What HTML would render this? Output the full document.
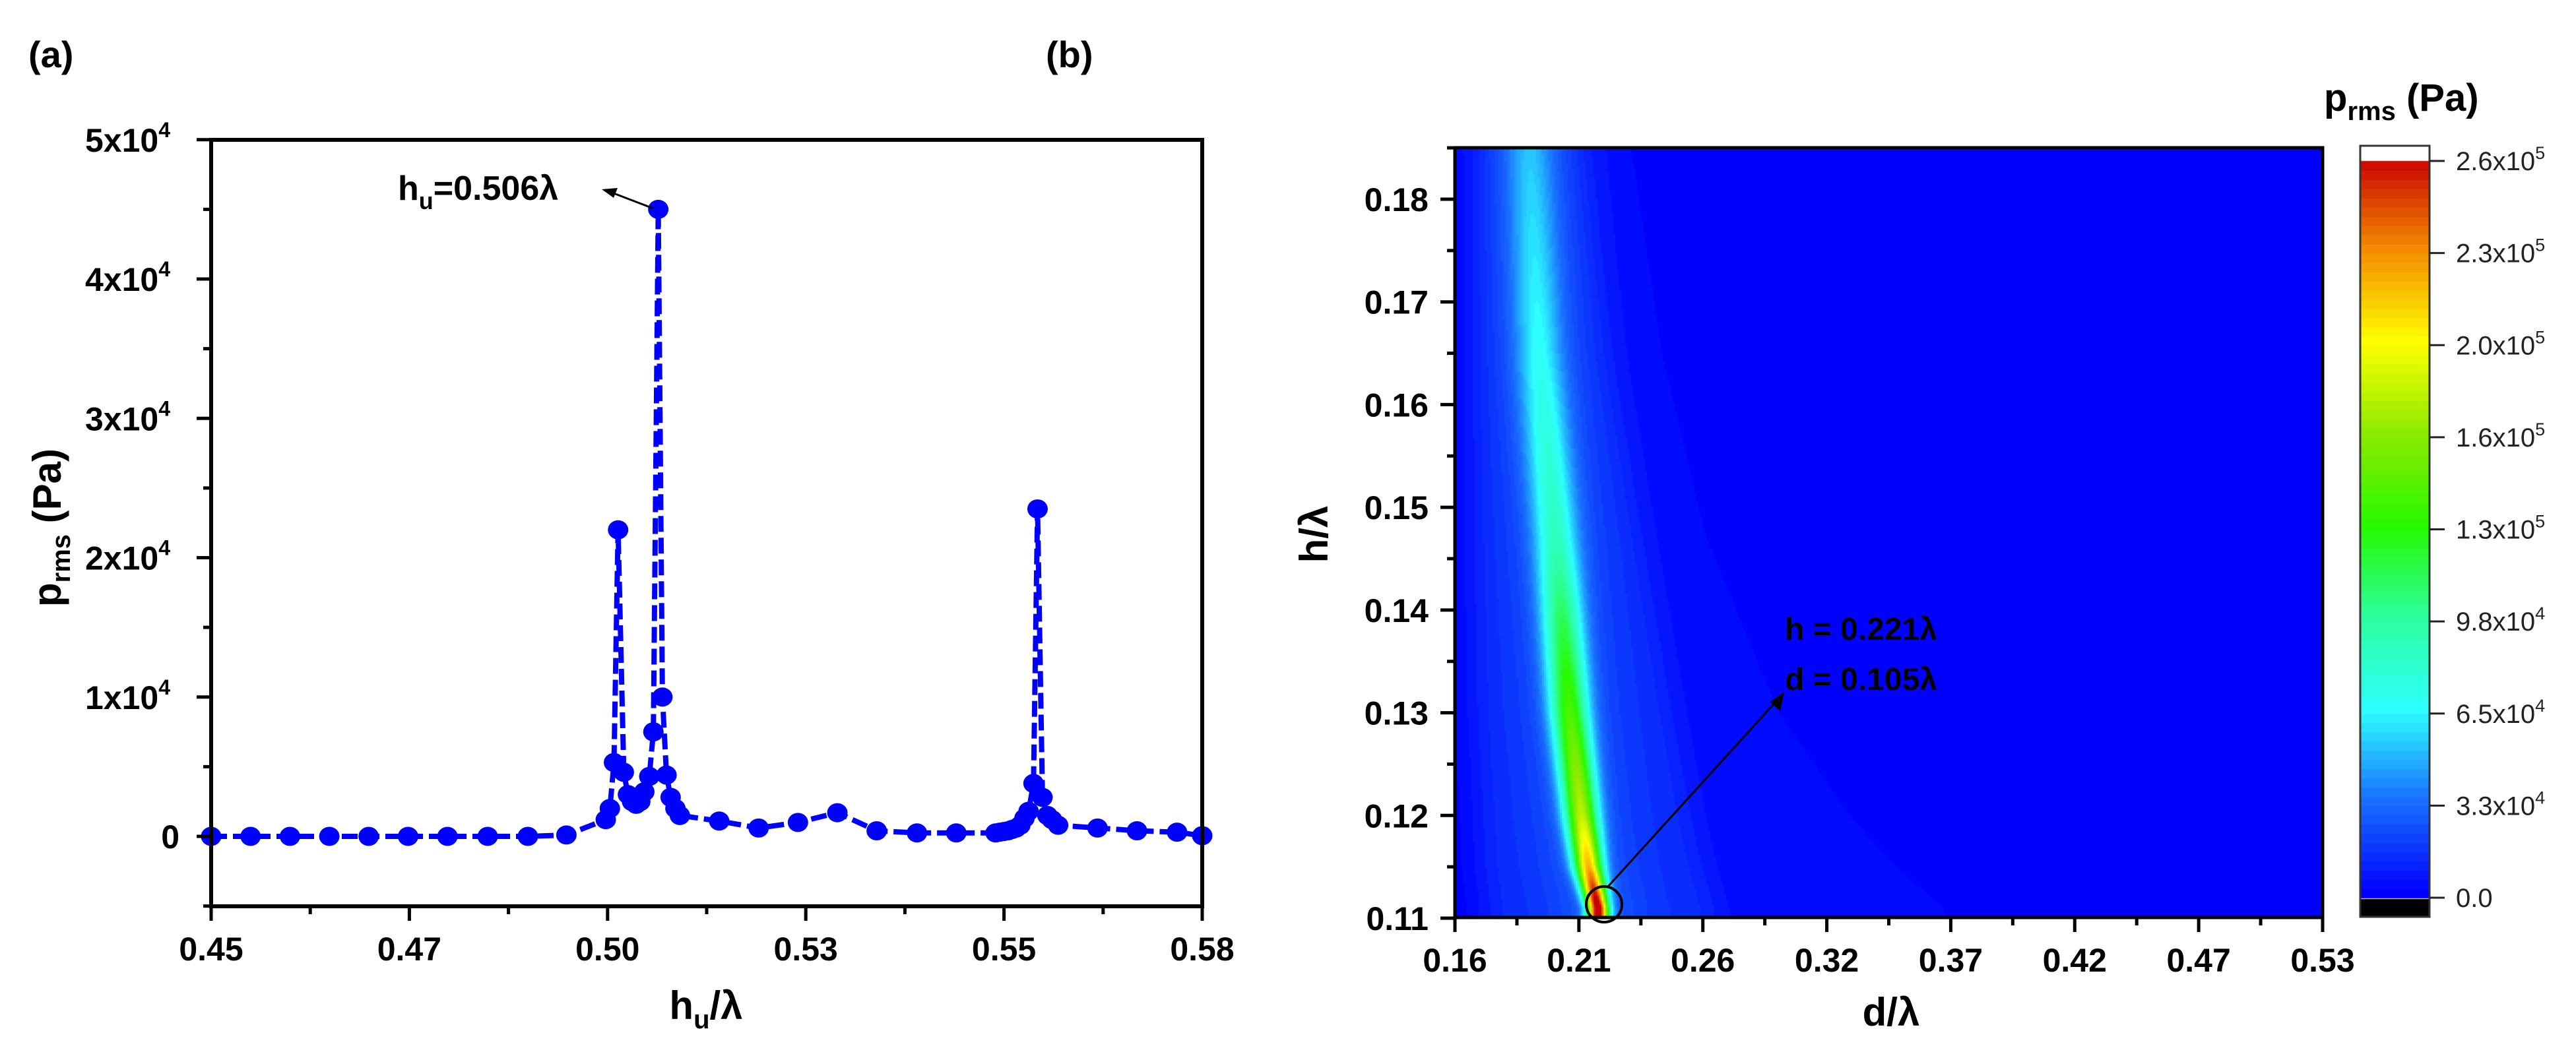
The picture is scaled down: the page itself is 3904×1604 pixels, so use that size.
<!DOCTYPE html>
<html><head><meta charset="utf-8">
<style>
html,body{margin:0;padding:0;background:#fff;}
#wrap{position:relative;width:3904px;height:1604px;overflow:hidden;font-family:"Liberation Sans",Arial,sans-serif;}
#heat{position:absolute;left:2205px;top:224px;}
svg{position:absolute;left:0;top:0;}
</style></head>
<body>
<div id="wrap">
<canvas id="heat" width="1315" height="1167"></canvas>
<canvas id="cbar" width="105" height="1170" style="position:absolute;left:3577px;top:221px;"></canvas>
<svg id="svg" width="3904" height="1604" xmlns="http://www.w3.org/2000/svg"></svg>
</div>
<script>
// ---------- Panel (a) data ----------
const aX = [0.45,0.45517,0.46033,0.4655,0.47066,0.47583,0.481,0.48627,0.49154,0.4966,0.50176,0.5023,0.50284,0.50338,0.50413,0.50467,0.50521,0.50575,0.50629,0.50682,0.50747,0.50801,0.50865,0.50919,0.50973,0.51027,0.5109,0.51148,0.51664,0.52181,0.52697,0.53214,0.5373,0.54258,0.54774,0.5529,0.55345,0.55399,0.55453,0.55507,0.55561,0.55614,0.55668,0.55722,0.55787,0.5584,0.55905,0.55969,0.5603,0.5611,0.56627,0.57144,0.5767];
const aY = [0,0,0,0,0,0,0,0,0,100,1200,2000,5300,22000,4600,3000,2500,2300,2500,3200,4300,7500,45000,10000,4400,2800,2000,1500,1100,600,1000,1700,400,250,250,250,300,350,400,500,600,800,1300,1800,3800,23500,2800,1500,1200,800,600,400,300];
const aX2 = [0.58];
const aY2 = [50];
const aXTicks = [0.45,0.476,0.502,0.528,0.554,0.58];
const aXTickLabels = ["0.45","0.47","0.50","0.53","0.55","0.58"];
const aYTicks = [0,10000,20000,30000,40000,50000];
const aYTickLabels = ["0","1x10","2x10","3x10","4x10","5x10"];

// ---------- Panel (b) data ----------
const bH      = [0.111, 0.115, 0.12, 0.13, 0.147, 0.165, 0.186];
const bRidgeD = [0.221, 0.217, 0.214, 0.209, 0.203, 0.196, 0.1915];
const bPeak   = [250000,190000,150000,115000,60000,40000,24000];
const bWidth  = [0.0045,0.006,0.007,0.008,0.009,0.0095,0.0095];
const bPlatL  = [0.175, 0.173, 0.172, 0.170, 0.169, 0.170, 0.1715];
const bPlatR  = [0.27, 0.265, 0.26, 0.252, 0.239, 0.225, 0.213];
const bLowR   = [0.37, 0.35, 0.33, 0.30, 0.269, 0.25, 0.236];
const bXTicks = [0.16,0.212857,0.265714,0.318571,0.371429,0.424286,0.477143,0.53];
const bXTickLabels = ["0.16","0.21","0.26","0.32","0.37","0.42","0.47","0.53"];
const bYTicks = [0.11,0.12,0.13,0.14,0.15,0.16,0.17,0.18];
const bYTickLabels = ["0.11","0.12","0.13","0.14","0.15","0.16","0.17","0.18"];
const cbTicks = [0,32500,65000,97500,130000,162500,195000,227500,260000];
const cbTickMant = ["0.0","3.3x10","6.5x10","9.8x10","1.3x10","1.6x10","2.0x10","2.3x10","2.6x10"];
const cbTickExp = ["","4","4","4","5","5","5","5","5"];

const NS="http://www.w3.org/2000/svg";
const svg=document.getElementById('svg');
function el(tag,attrs,parent){const e=document.createElementNS(NS,tag);for(const k in attrs)e.setAttribute(k,attrs[k]);(parent||svg).appendChild(e);return e;}

// ---------- axes (a) ----------
const aL=320,aR=1822,aT=212,aB=1374;
const ax=v=>aL+(v-0.45)/(0.58-0.45)*(aR-aL);
const ay=v=>1268-v/10000*211.25;
const gA=el('g',{});  
let pts=aX.map((x,i)=>ax(x).toFixed(1)+','+ay(aY[i]).toFixed(1));
pts.push(ax(aX2[0]).toFixed(1)+','+ay(aY2[0]).toFixed(1));
const line=el('polyline',{points:pts.join(' '),fill:'none',stroke:'#0000ff','stroke-width':8,'stroke-dasharray':'24 9','stroke-linejoin':'round'},gA);
 
aX.concat(aX2).forEach((x,i)=>{const y=i<aX.length?aY[i]:aY2[0];
  const c=el('ellipse',{cx:ax(x),cy:ay(y),rx:15.5,ry:14.5,fill:'#0000ff'},gA);
   });
const fa=el('rect',{x:aL,y:aT,width:aR-aL,height:aB-aT,fill:'none',stroke:'#000','stroke-width':6},gA);
 
aXTicks.forEach((t,i)=>{const x=ax(t);
  el('line',{x1:x,y1:aB,x2:x,y2:aB+22,stroke:'#000','stroke-width':5},gA);
  if(i<aXTicks.length-1){const xm=ax(t+0.013);el('line',{x1:xm,y1:aB,x2:xm,y2:aB+12,stroke:'#000','stroke-width':5},gA);}
  const tx=el('text',{x:x,y:aB+82,'text-anchor':'middle','font-size':50,'font-weight':'bold'},gA);tx.textContent=aXTickLabels[i];
   });
for(let v=-5000;v<=50000;v+=5000){const y=ay(v);const major=v%10000===0;
  el('line',{x1:aL,y1:y,x2:aL-(major?22:12),y2:y,stroke:'#000','stroke-width':5},gA);}
aYTicks.forEach((t,i)=>{const y=ay(t);
  const tx=el('text',{x:t===0?272:258,y:y+18,'text-anchor':'end','font-size':50,'font-weight':'bold'},gA);
  tx.textContent=aYTickLabels[i];
  if(t!==0){const s=el('tspan',{dy:-22,'font-size':32},tx);s.textContent='4';}
   });
let t=el('text',{x:1070,y:1545,'text-anchor':'middle','font-size':60,'font-weight':'bold'},gA);
t.innerHTML='h<tspan dy="14" font-size="40">u</tspan><tspan dy="-14">/λ</tspan>';
 
t=el('text',{x:0,y:0,'text-anchor':'middle','font-size':60,'font-weight':'bold',transform:'translate(92,800) rotate(-90)'},gA);
t.innerHTML='<tspan>p</tspan><tspan dy="14" font-size="40">rms</tspan><tspan dy="-14" font-size="60"> (Pa)</tspan>';
 
t=el('text',{x:43,y:102,'font-size':56,'font-weight':'bold'},gA);t.textContent='(a)';
 
t=el('text',{x:603,y:303,'font-size':52,'font-weight':'bold'},gA);
t.innerHTML='h<tspan dy="14" font-size="36">u</tspan><tspan dy="-14">=0.506λ</tspan>';
 
el('line',{x1:990,y1:316,x2:930,y2:293,stroke:'#000','stroke-width':3},gA);
el('polygon',{points:'912,287 936,285 930,300',fill:'#000'},gA);

// ---------- panel (b) ----------
const bL=2205,bR=3520,bT=224,bB=1391;
const bx=v=>bL+(v-0.16)/(0.53-0.16)*(bR-bL);
const by=v=>1392-(v-0.11)/0.07*1090;
const cmapV=[0,32500,65000,97500,130000,162500,195000,227500,260000];
const cmapC=[[0,0,255],[25,110,255],[45,255,255],[45,255,160],[40,250,0],[140,235,0],[255,255,0],[245,140,0],[200,0,0]];
function cmap(v){v=Math.max(0,Math.min(259999,v));let i=0;while(i<cmapV.length-2&&v>cmapV[i+1])i++;
  const f=(v-cmapV[i])/(cmapV[i+1]-cmapV[i]);const a=cmapC[i],b=cmapC[i+1];
  return [a[0]+(b[0]-a[0])*f,a[1]+(b[1]-a[1])*f,a[2]+(b[2]-a[2])*f];}
function interp(arr,h){if(h<=bH[0])return arr[0];for(let i=0;i<bH.length-1;i++){if(h<=bH[i+1]){const f=(h-bH[i])/(bH[i+1]-bH[i]);return arr[i]+(arr[i+1]-arr[i])*f;}}return arr[arr.length-1];}
function sm(x){return 1/(1+Math.exp(-x));}
function field(d,h){const c=interp(bRidgeD,h),p=interp(bPeak,h),w=interp(bWidth,h),L=interp(bPlatL,h),R=interp(bPlatR,h),LR=interp(bLowR,h);
  const dd=d-c;
  let v=p*Math.exp(-Math.pow(dd/w,2))+14000*Math.exp(-Math.pow(dd/0.02,2));
  v+=10000*sm((d-L)/0.004)*sm((R-d)/0.004);
  v+=5000*sm((LR-d)/0.003)*sm((d-L+0.01)/0.004);
  return v;}
const levels=80;
const ctx=document.getElementById('heat').getContext('2d');
const W=1315,H=1167,step=3;
for(let py=0;py<H;py+=step){const h=0.11+(1392-(bT+py+step/2))/1090*0.07;
  for(let px=0;px<W;px+=step){const d=0.16+(px+step/2)/W*0.37;
    let v=field(d,h);v=Math.floor(v/(260000/levels))*(260000/levels);
    const c=cmap(v);ctx.fillStyle='rgb('+(c[0]|0)+','+(c[1]|0)+','+(c[2]|0)+')';ctx.fillRect(px,py,step,step);}}
const cb=document.getElementById('cbar').getContext('2d');
const cbY=v=>1361-v/260000*(1361-244);
cb.fillStyle='#fff';cb.fillRect(0,0,105,25);
for(let k=0;k<levels;k++){const v0=k*260000/levels,v1=(k+1)*260000/levels;const c=cmap(v0+1);
  cb.fillStyle='rgb('+(c[0]|0)+','+(c[1]|0)+','+(c[2]|0)+')';const y1=cbY(v1)-221,y0=cbY(v0)-221;cb.fillRect(0,y1,105,y0-y1+1);}
cb.fillStyle='#000';cb.fillRect(0,1363-221,105,28);
const gB=el('g',{});  
let r=el('rect',{x:3577,y:221,width:105,height:1169,fill:'none',stroke:'#333','stroke-width':3},gB);
 
cbTicks.forEach((v,i)=>{const y=cbY(v);el('line',{x1:3682,y1:y,x2:3705,y2:y,stroke:'#222','stroke-width':3},gB);
  const tx=el('text',{x:3722,y:y+14,'font-size':40,fill:'#222'},gB);tx.textContent=cbTickMant[i];
  if(cbTickExp[i]){const s=el('tspan',{dy:-17,'font-size':27},tx);s.textContent=cbTickExp[i];}
   });
t=el('text',{x:3522,y:168,'font-size':58,'font-weight':'bold'},gB);
t.innerHTML='p<tspan dy="14" font-size="40">rms</tspan><tspan dy="-14" font-size="58"> (Pa)</tspan>';
 
r=el('rect',{x:bL,y:bT,width:bR-bL,height:bB-bT,fill:'none',stroke:'#000','stroke-width':5},gB);
 
bXTicks.forEach((v,i)=>{const x=bx(v);el('line',{x1:x,y1:bB,x2:x,y2:bB+22,stroke:'#000','stroke-width':5},gB);
  if(i<bXTicks.length-1){const xm=bx(v+0.0264286);el('line',{x1:xm,y1:bB,x2:xm,y2:bB+12,stroke:'#000','stroke-width':5},gB);}
  const tx=el('text',{x:x,y:bB+82,'text-anchor':'middle','font-size':50,'font-weight':'bold'},gB);tx.textContent=bXTickLabels[i];
   });
bYTicks.forEach((v,i)=>{const y=by(v);el('line',{x1:bL,y1:y,x2:bL-22,y2:y,stroke:'#000','stroke-width':5},gB);
  const ym=by(v+0.005);el('line',{x1:bL,y1:ym,x2:bL-12,y2:ym,stroke:'#000','stroke-width':5},gB);
  const tx=el('text',{x:bL-40,y:y+18,'text-anchor':'end','font-size':50,'font-weight':'bold'},gB);tx.textContent=bYTickLabels[i];
   });
t=el('text',{x:2866,y:1555,'text-anchor':'middle','font-size':60,'font-weight':'bold'},gB);t.textContent='d/λ';
 
t=el('text',{x:0,y:0,'text-anchor':'middle','font-size':60,'font-weight':'bold',transform:'translate(2012,810) rotate(-90)'},gB);t.textContent='h/λ';
 
t=el('text',{x:1585,y:102,'font-size':56,'font-weight':'bold'},gB);t.textContent='(b)';
 
const c1=el('circle',{cx:2431,cy:1371,r:27,fill:'none',stroke:'#000','stroke-width':4},gB);
 
el('line',{x1:2437,y1:1344,x2:2692,y2:1063,stroke:'#000','stroke-width':3},gB);
el('polygon',{points:'2704,1049 2698,1078 2683,1064',fill:'#000'},gB);
t=el('text',{x:2705,y:970,'font-size':48,'font-weight':'bold'},gB);t.textContent='h = 0.221λ';
 
t=el('text',{x:2705,y:1046,'font-size':48,'font-weight':'bold'},gB);t.textContent='d = 0.105λ';
 
</script>
</body></html>
